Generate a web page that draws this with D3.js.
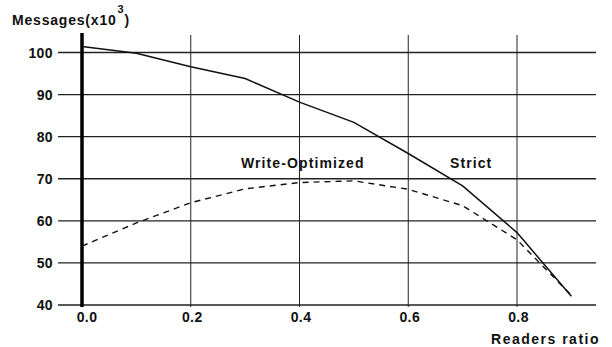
<!DOCTYPE html>
<html lang="en">
<head>
    <meta charset="UTF-8">
    <title>Messages vs Readers ratio</title>
    <script src="https://cdnjs.cloudflare.com/ajax/libs/d3/7.8.5/d3.min.js"></script>
    <style>
        body { margin: 0; padding: 0; background: #fff; }
        svg text {
            font-family: "Liberation Sans", Arial, sans-serif;
            font-weight: bold;
            fill: #111;
        }
        .grid line { stroke: #222; }
        .label { font-size: 14px; letter-spacing: 1.1px; }
        .tick { font-size: 14px; letter-spacing: 0.4px; }
    </style>
</head>
<body>
    <div id="chart"></div>
    <script>
        // readers ratio, sampled every 0.1
        const readers = [0.0, 0.1, 0.2, 0.3, 0.4, 0.5, 0.6, 0.7, 0.8, 0.9];
        // messages (x10^3)
        const strict = [101.4, 99.8, 96.6, 93.8, 88.2, 83.4, 76.0, 68.3, 57.2, 42.1];
        const writeOptimized = [54.0, 59.5, 64.3, 67.6, 69.1, 69.5, 67.5, 63.6, 55.5, 42.3];

        const xTicks = [0.0, 0.2, 0.4, 0.6, 0.8];
        const yTicks = [40, 50, 60, 70, 80, 90, 100];

        const width = 612, height = 347;

        const svg = d3.select("#chart").append("svg")
            .attr("width", width)
            .attr("height", height);

        const x = d3.scaleLinear().domain([0, 0.8]).range([82, 517]);
        const y = d3.scaleLinear().domain([40, 100]).range([305, 52.5]);

        // horizontal grid lines
        svg.append("g").attr("class", "grid")
            .selectAll("line")
            .data(yTicks)
            .enter().append("line")
            .attr("x1", 58).attr("x2", 596)
            .attr("y1", d => y(d)).attr("y2", d => y(d))
            .attr("stroke-width", 1.4);

        // vertical grid lines
        svg.append("g").attr("class", "grid")
            .selectAll("line")
            .data(xTicks.slice(1))
            .enter().append("line")
            .attr("x1", d => x(d)).attr("x2", d => x(d))
            .attr("y1", 35).attr("y2", 307)
            .attr("stroke-width", 1);

        // thick y axis
        svg.append("line")
            .attr("x1", x(0)).attr("x2", x(0))
            .attr("y1", 33).attr("y2", 307)
            .attr("stroke", "#000")
            .attr("stroke-width", 3.5);

        // y tick labels
        svg.append("g")
            .selectAll("text")
            .data(yTicks)
            .enter().append("text")
            .attr("class", "tick")
            .attr("x", 53)
            .attr("y", d => y(d) + 5)
            .attr("text-anchor", "end")
            .text(d => d);

        // x tick labels
        svg.append("g")
            .selectAll("text")
            .data(xTicks)
            .enter().append("text")
            .attr("class", "tick")
            .attr("x", d => x(d) + (d === 0 ? 5 : 1.5))
            .attr("y", 322)
            .attr("text-anchor", "middle")
            .text(d => d.toFixed(1));

        // axis titles
        const yTitle = svg.append("text")
            .attr("class", "label")
            .attr("x", 12)
            .attr("y", 25)
            .style("letter-spacing", "0.8px")
            .text("Messages(x10");
        const tw = yTitle.node().getComputedTextLength();
        svg.append("text")
            .attr("x", 12 + tw + 1)
            .attr("y", 13)
            .style("font-size", "11px")
            .text("3");
        svg.append("text")
            .attr("class", "label")
            .attr("x", 12 + tw + 8)
            .attr("y", 25)
            .text(")");

        svg.append("text")
            .attr("class", "label")
            .attr("x", 600)
            .attr("y", 344)
            .attr("text-anchor", "end")
            .style("letter-spacing", "1.5px")
            .text("Readers ratio");

        const line = d3.line()
            .x((d, i) => x(readers[i]))
            .y(d => y(d));

        svg.append("path")
            .datum(writeOptimized)
            .attr("fill", "none")
            .attr("stroke", "#111")
            .attr("stroke-width", 1.4)
            .attr("stroke-dasharray", "6,5")
            .attr("d", line);

        svg.append("path")
            .datum(strict)
            .attr("fill", "none")
            .attr("stroke", "#111")
            .attr("stroke-width", 1.5)
            .attr("d", line);

        // series labels
        svg.append("text")
            .attr("class", "label")
            .attr("x", 241)
            .attr("y", 168)
            .text("Write-Optimized");

        svg.append("text")
            .attr("class", "label")
            .attr("x", 450)
            .attr("y", 168)
            .text("Strict");
    </script>
</body>
</html>
